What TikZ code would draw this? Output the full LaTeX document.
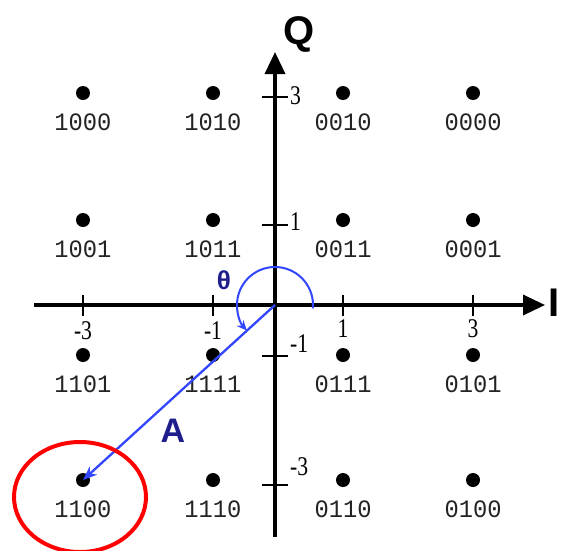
\documentclass[tikz,border=0pt]{standalone}
\usepackage{fontspec}
\setmainfont{Liberation Serif}
\newfontfamily\labfont{Liberation Mono}
\newfontfamily\sansfont{Liberation Sans}
\usetikzlibrary{arrows.meta}
\definecolor{navy}{RGB}{30,30,140}
\definecolor{brblue}{RGB}{50,70,255}
\definecolor{labgray}{RGB}{35,35,35}
\tikzset{
  dot/.style={circle,fill=black,inner sep=0pt,minimum size=14pt},
  code/.style={font=\labfont\fontsize{25}{25}\selectfont,text=labgray,inner sep=0pt,xscale=0.95},
  ticklab/.style={font=\fontsize{27}{27}\selectfont,inner sep=0pt,xscale=0.8},
  axis/.style={line width=3.5pt,-{Triangle[length=22pt,width=20pt]}},
  tickmark/.style={line width=2.5pt},
}
\begin{document}
\begin{tikzpicture}[x=1pt,y=-1pt]
\clip (0,0) rectangle (561,550);
\fill[white] (0,0) rectangle (561,550);
% axes
\coordinate (O) at (275,305);
\coordinate (xl) at (34,305);
\coordinate (xr) at (545,305);
\coordinate (yb) at (275,537);
\coordinate (yt) at (275,52);
\draw[axis] (xl) -- (xr);
\draw[axis] (yb) -- (yt);
% x ticks
\foreach \x/\l/\ly in {83/-3/331,213/-1/331,343/1/329,473/3/329}{
  \draw[tickmark] (\x,295) -- (\x,316);
  \node[ticklab] (xt\l) at (\x,\ly) {\l};
}
% y ticks
\foreach \y/\l/\ly in {97/3/96,225/1/222,356/-1/344,485/-3/467}{
  \draw[tickmark] (262,\y) -- (288,\y);
  \node[ticklab,anchor=west] (yt\l) at (290,\ly) {\l};
}
% constellation points
\foreach \c/\x/\y in {1000/83/93,1010/213/93,0010/343/93,0000/473/93,
                      1001/83/220,1011/213/220,0011/343/220,0001/473/220,
                      1101/83/355,1111/213/355,0111/343/355,0101/473/355,
                      1100/83/480,1110/213/480,0110/343/480,0100/473/480}{
  \node[dot] (d\c) at (\x,\y) {};
  \node[code] (l\c) at (\x,\y+29) {\c};
}
% axis labels
\node[font=\sansfont\bfseries\fontsize{40}{40}\selectfont,inner sep=0pt] (Q) at (299,34) {Q};
\node[font=\sansfont\bfseries\fontsize{40}{40}\selectfont,inner sep=0pt,anchor=west] (I) at (548,303) {I};
% amplitude vector
\draw[brblue,line width=2.3pt,-{Stealth[length=14pt,width=11pt]}] (O) -- (d1100.center);
\node[font=\sansfont\bfseries\fontsize{34}{34}\selectfont,text=navy,inner sep=0pt] (A) at (173,431) {A};
% phase arc
\draw[brblue,line width=2pt,-{Stealth[length=10pt,width=9pt]}] ([shift={(5:38)}]O) arc[start angle=5,end angle=-222,radius=38];
\node[font=\sansfont\bfseries\fontsize{26}{26}\selectfont,text=navy,inner sep=0pt] (th) at (224,280) {θ};
% highlight
\draw[red,line width=4pt] (80,497) ellipse[x radius=66,y radius=55];
\end{tikzpicture}
\end{document}
